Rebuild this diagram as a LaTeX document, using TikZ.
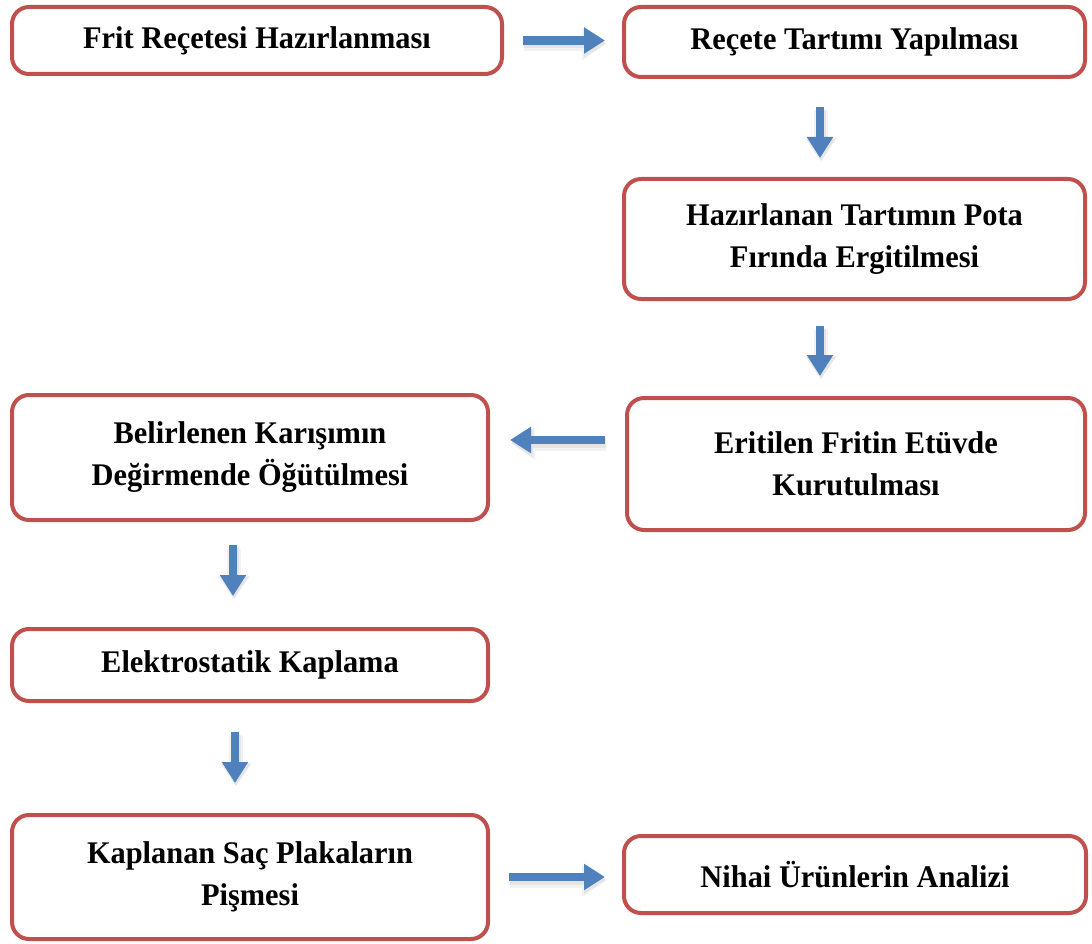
\documentclass[tikz,border=0pt]{standalone}
\usepackage{fontspec}
\setmainfont{Liberation Serif}[FakeStretch=0.965]
\usetikzlibrary{arrows.meta}
\definecolor{boxred}{HTML}{C0504D}
\definecolor{flowblue}{HTML}{4F81BD}
\begin{document}
\begin{tikzpicture}[x=1pt,y=-1pt,
  stepbox/.style={draw=boxred, line width=4pt, rounded corners=17pt, fill=white,
    align=center, inner sep=0pt,
    font=\fontsize{31.5}{42}\selectfont\bfseries},
  flowarrow/.style={draw=flowblue, line width=8.5pt,
    -{Triangle[length=21pt,width=25pt]}},
  shadeouter/.style={draw=black!5, line width=14pt,
    -{Triangle[length=24pt,width=31pt]}, transform canvas={xshift=1pt,yshift=-3.5pt}},
  shadeinner/.style={draw=black!10, line width=10pt,
    -{Triangle[length=22pt,width=27pt]}, transform canvas={xshift=1pt,yshift=-3pt}}
]
\useasboundingbox (0,0) rectangle (1092,944);
\fill[white] (0,0) rectangle (1092,944);

% process steps
\node[stepbox, minimum width=490pt, minimum height=67pt] (b1) at (257,40.5)
  {Frit Reçetesi Hazırlanması};
\node[stepbox, minimum width=461pt, minimum height=70pt] (b2) at (854.5,42)
  {Reçete Tartımı Yapılması};
\node[stepbox, minimum width=461pt, minimum height=120pt] (b3) at (854.5,239)
  {Hazırlanan Tartımın Pota\\Fırında Ergitilmesi};
\node[stepbox, minimum width=458pt, minimum height=132pt] (b4) at (856,464)
  {Eritilen Fritin Etüvde\\Kurutulması};
\node[stepbox, minimum width=476pt, minimum height=125pt] (b5) at (250,457.5)
  {Belirlenen Karışımın\\Değirmende Öğütülmesi};
\node[stepbox, minimum width=476pt, minimum height=72pt] (b6) at (250,665)
  {Elektrostatik Kaplama};
\node[stepbox, minimum width=476pt, minimum height=124pt] (b7) at (250,877)
  {Kaplanan Saç Plakaların\\Pişmesi};
\node[stepbox, minimum width=462pt, minimum height=77pt] (b8) at (855,874.5)
  {Nihai Ürünlerin Analizi};

% flow arrows (soft shade layers first, then the arrow itself)
\foreach \st in {shadeouter, shadeinner, flowarrow}{
  \draw[\st, shorten <=19pt, shorten >=17pt] (b1.east) -- (b1.east -| b2.west);
  \draw[\st, shorten <=28pt, shorten >=19pt]
    ([xshift=-34.5pt]b2.south) -- ([xshift=-34.5pt]b2.south |- b3.north);
  \draw[\st, shorten <=25pt, shorten >=20pt]
    ([xshift=-34.5pt]b3.south) -- ([xshift=-34.5pt]b3.south |- b4.north);
  \draw[\st, shorten <=20pt, shorten >=20pt]
    ([yshift=24pt]b4.west) -- ([yshift=24pt]b4.west -| b5.east);
  \draw[\st, shorten <=23pt, shorten >=31pt]
    ([xshift=-17pt]b5.south) -- ([xshift=-17pt]b5.south |- b6.north);
  \draw[\st, shorten <=29pt, shorten >=30pt]
    ([xshift=-15pt]b6.south) -- ([xshift=-15pt]b6.south |- b7.north);
  \draw[\st, shorten <=19pt, shorten >=17pt] (b7.east) -- (b7.east -| b8.west);
}
\end{tikzpicture}
\end{document}
